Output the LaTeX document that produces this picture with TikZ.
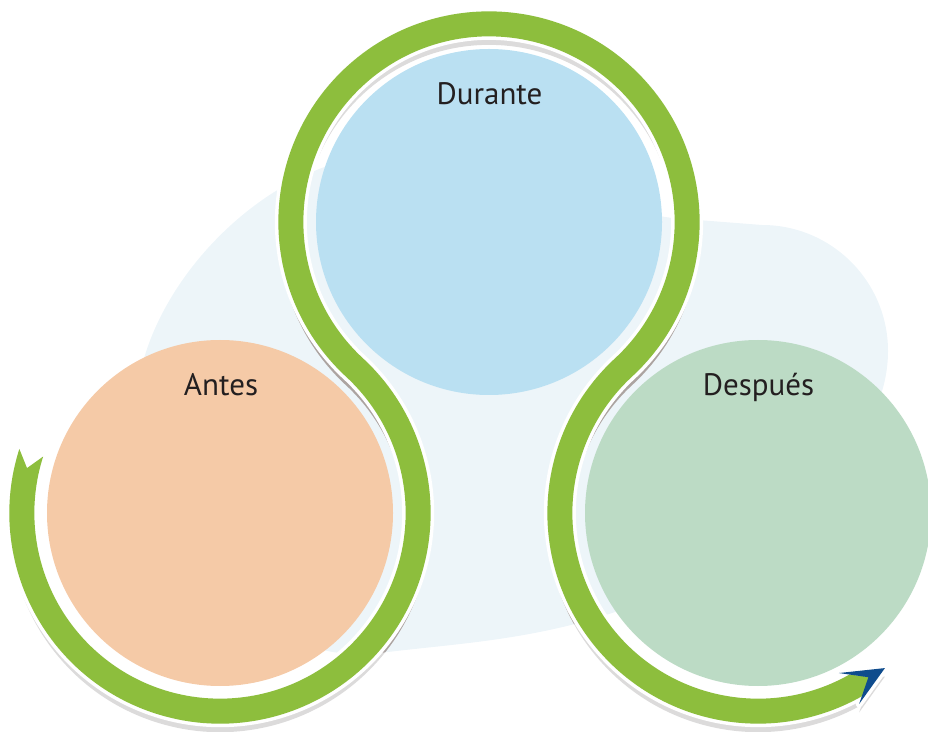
\documentclass[tikz,border=0pt]{standalone}
\usepackage{fontspec}
\setmainfont{PT Sans}
\usetikzlibrary{calc}
\definecolor{bandgreen}{HTML}{8DBE3D}
\definecolor{blobblue}{HTML}{EDF5F9}
\definecolor{durblue}{HTML}{BAE0F2}
\definecolor{antorange}{HTML}{F5CAA7}
\definecolor{despgreen}{HTML}{BCDBC5}
\definecolor{arrowblue}{HTML}{0F4C8D}
\definecolor{shadowlight}{HTML}{DCDBDB}
\definecolor{shadowdark}{HTML}{ACA4A1}
\definecolor{textdark}{HTML}{231F20}
\begin{document}
\begin{tikzpicture}[x=1pt,y=1pt,
  lbl/.style={anchor=base,text=textdark,font=\fontsize{31}{37}\selectfont,inner sep=0pt},
  blobshape/.style={insert path={(143,369) .. controls (165,450) and (240,535) .. (330,566)
     -- (672,513) -- (762,506) arc[start angle=90,end angle=0,radius=126]
     .. controls (888,250) and (700,150) .. (615,119)
     .. controls (530,90) and (450,87) .. (380,78)
     .. controls (250,61) and (130,211) .. (143,369) -- cycle}},
  bandshape/.style={insert path={($(A)+(162.3:210.65)$)
     arc[start angle=162.3, end angle=407.25, radius=210.65]
     arc[start angle=227.25, end angle=-47.25, radius=185.65]
     arc[start angle=132.75, end angle=300, radius=210.65]
     -- ($(P)+(304.2:198.15)$) -- ($(P)+(299.5:185.65)$)
     arc[start angle=299.5, end angle=132.75, radius=185.65]
     arc[start angle=-47.25, end angle=227.25, radius=210.65]
     arc[start angle=407.25, end angle=162.3, radius=185.65]
     -- ($(A)+(166.9:198.15)$) -- cycle}},
  headshape/.style={insert path={($(P)+(-63.2:179.3)$) -- ($(P)+(-50.7:200.4)$)
     -- ($(P)+(-62.1:216.1)$) -- ($(P)+(-56.1:197.9)$) -- cycle}}
]
\useasboundingbox (0,0) rectangle (928,731);
\coordinate (A) at (220,218);
\coordinate (D) at (489,509);
\coordinate (P) at (758,218);
% background blob
\fill[blobblue, blobshape];
% shadow
\begin{scope}[transform canvas={yshift=-8.5pt}]
  \fill[shadowlight, bandshape];
  \fill[shadowlight, headshape];
\end{scope}
\begin{scope}
  \clip[blobshape];
  \begin{scope}[transform canvas={yshift=-8.5pt}]
    \fill[shadowdark, bandshape];
  \end{scope}
\end{scope}
% circles
\fill[antorange] (A) circle[radius=173];
\fill[durblue] (D) circle[radius=173];
\fill[despgreen] (P) circle[radius=173];
% band
\draw[white, line width=7, line join=round, bandshape];
\draw[white, line width=7, line join=round, headshape];
\fill[bandgreen, bandshape];
\fill[arrowblue, headshape];
% labels
\node[lbl] (durante) at (489.5,626) {Durante};
\node[lbl] (antes) at (221,335) {Antes};
\node[lbl] (despues) at (758.5,335) {Después};
\end{tikzpicture}
\end{document}
